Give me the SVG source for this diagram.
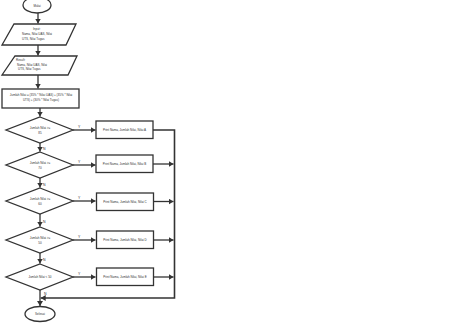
<svg xmlns="http://www.w3.org/2000/svg" width="474" height="324" viewBox="0 0 474 324">
<style>
.s{fill:#fff;stroke:#333;stroke-width:1.3}
.t{font-family:"Liberation Sans",Arial,sans-serif;font-size:3px;fill:#333}
.c{text-anchor:middle}
.l{fill:none;stroke:#333;stroke-width:1.3}
.lb{font-family:"Liberation Sans",Arial,sans-serif;font-size:3.5px;fill:#333}
</style>
<defs>
<marker id="a" markerWidth="6" markerHeight="6" refX="5" refY="3" orient="auto" markerUnits="userSpaceOnUse">
<path d="M0,0 L5,3 L0,6 Z" fill="#333"/>
</marker>
</defs>
<rect width="474" height="324" fill="#fff"/>
<g id="connectors">
<line class="l" x1="38" y1="13" x2="38" y2="23.5" marker-end="url(#a)"/>
<line class="l" x1="38" y1="45" x2="38" y2="55.5" marker-end="url(#a)"/>
<line class="l" x1="38" y1="75" x2="38" y2="88.5" marker-end="url(#a)"/>
<line class="l" x1="40" y1="108" x2="40" y2="116.5" marker-end="url(#a)"/>
<line class="l" x1="40" y1="143" x2="40" y2="151.5" marker-end="url(#a)"/>
<line class="l" x1="40" y1="178" x2="40" y2="187.5" marker-end="url(#a)"/>
<line class="l" x1="40" y1="214" x2="40" y2="226.5" marker-end="url(#a)"/>
<line class="l" x1="40" y1="253" x2="40" y2="263.5" marker-end="url(#a)"/>
<line class="l" x1="40" y1="290" x2="40" y2="306" marker-end="url(#a)"/>
<line class="l" x1="73" y1="130" x2="95.5" y2="130" marker-end="url(#a)"/>
<line class="l" x1="73" y1="165" x2="95.5" y2="165" marker-end="url(#a)"/>
<line class="l" x1="73" y1="201" x2="95.5" y2="201" marker-end="url(#a)"/>
<line class="l" x1="73" y1="240" x2="95.5" y2="240" marker-end="url(#a)"/>
<line class="l" x1="73" y1="277" x2="95.5" y2="277" marker-end="url(#a)"/>
<polyline class="l" points="153,130 174.5,130 174.5,298 40.7,298" marker-end="url(#a)" style="stroke-width:1.6"/>
<line class="l" x1="153" y1="164" x2="173.5" y2="164" marker-end="url(#a)"/>
<line class="l" x1="153" y1="201.5" x2="173.5" y2="201.5" marker-end="url(#a)"/>
<line class="l" x1="153" y1="240" x2="173.5" y2="240" marker-end="url(#a)"/>
<line class="l" x1="153" y1="277" x2="173.5" y2="277" marker-end="url(#a)"/>
<text class="lb" x="78" y="128">Y</text>
<text class="lb" x="78" y="163">Y</text>
<text class="lb" x="78" y="199">Y</text>
<text class="lb" x="78" y="238">Y</text>
<text class="lb" x="78" y="275">Y</text>
<text class="lb" x="43" y="150">N</text>
<text class="lb" x="43" y="186">N</text>
<text class="lb" x="43" y="223">N</text>
<text class="lb" x="43" y="261">N</text>
<text class="lb" x="44" y="295">N</text>
</g>
<g id="start">
<ellipse class="s" cx="37" cy="5" rx="14" ry="8"/>
<text class="t c" x="37" y="6.5">Mulai</text>
</g>
<g id="input">
<polygon class="s" points="14,24 76,24 66,45 2,45"/>
<text class="t" x="33" y="30">Input:</text>
<text class="t" x="22" y="35">Nama, Nilai UAS, Nilai</text>
<text class="t" x="22" y="40">UTS, Nilai Tugas</text>
</g>
<g id="read">
<polygon class="s" points="15,56 77,56 68,75 2,75"/>
<text class="t" x="16" y="61">Result:</text>
<text class="t" x="17" y="65.5">Nama, Nilai UAS, Nilai</text>
<text class="t" x="18" y="70">UTS, Nilai Tugas</text>
</g>
<g id="process">
<rect class="s" x="2" y="89" width="77" height="19"/>
<text class="t c" x="41" y="96">Jumlah Nilai = (35% * Nilai UAS) + (35% * Nilai</text>
<text class="t c" x="41" y="101">UTS) + (30% * Nilai Tugas)</text>
</g>
<g id="d1">
<polygon class="s" points="40,117 73,130 40,143 6,130"/>
<text class="t c" x="40" y="128.5">Jumlah Nilai &gt;=</text>
<text class="t c" x="40" y="133.5">85</text>
</g>
<g id="d2">
<polygon class="s" points="40,152 73,165 40,178 6,165"/>
<text class="t c" x="40" y="163.5">Jumlah Nilai &gt;=</text>
<text class="t c" x="40" y="168.5">70</text>
</g>
<g id="d3">
<polygon class="s" points="40,188 73,201 40,214 6,201"/>
<text class="t c" x="40" y="199.5">Jumlah Nilai &gt;=</text>
<text class="t c" x="40" y="204.5">60</text>
</g>
<g id="d4">
<polygon class="s" points="40,227 73,240 40,253 6,240"/>
<text class="t c" x="40" y="238.5">Jumlah Nilai &gt;=</text>
<text class="t c" x="40" y="243.5">50</text>
</g>
<g id="d5">
<polygon class="s" points="40,264 73,277 40,290 6,277"/>
<text class="t c" x="40" y="278">Jumlah Nilai &lt; 50</text>
</g>
<g id="p1">
<rect class="s" x="96" y="121" width="57" height="17.5"/>
<text class="t c" x="124.5" y="131">Print Nama, Jumlah Nilai, Nilai A</text>
</g>
<g id="p2">
<rect class="s" x="96" y="155" width="57" height="17.5"/>
<text class="t c" x="124.5" y="165">Print Nama, Jumlah Nilai, Nilai B</text>
</g>
<g id="p3">
<rect class="s" x="96.5" y="193" width="57" height="17.5"/>
<text class="t c" x="125" y="203">Print Nama, Jumlah Nilai, Nilai C</text>
</g>
<g id="p4">
<rect class="s" x="96.5" y="231" width="57" height="17.5"/>
<text class="t c" x="125" y="241">Print Nama, Jumlah Nilai, Nilai D</text>
</g>
<g id="p5">
<rect class="s" x="96.5" y="268" width="57" height="17.5"/>
<text class="t c" x="125" y="278">Print Nama, Jumlah Nilai, Nilai E</text>
</g>
<g id="end">
<ellipse class="s" cx="40" cy="314" rx="15" ry="7.5"/>
<text class="t c" x="40" y="315">Selesai</text>
</g>
</svg>
